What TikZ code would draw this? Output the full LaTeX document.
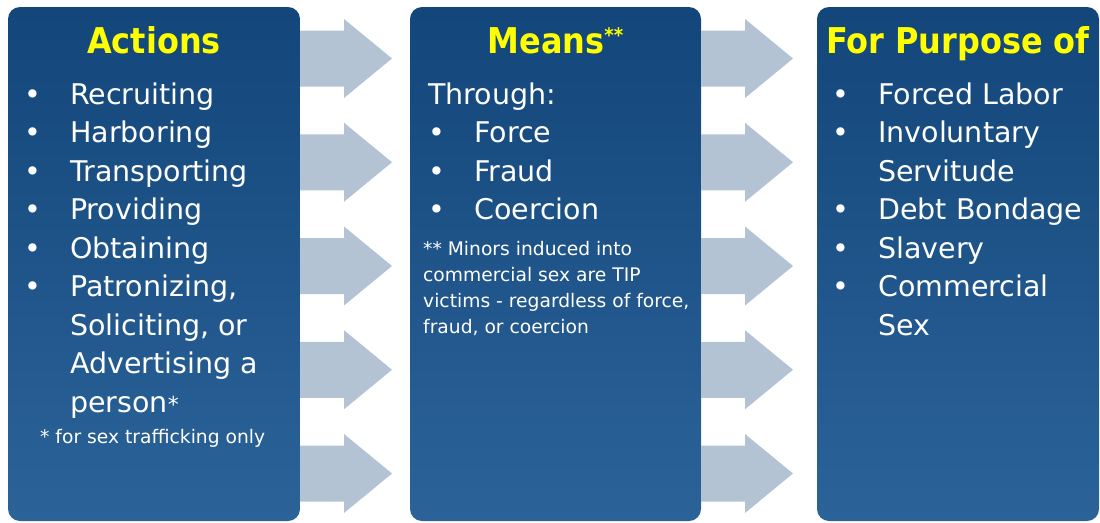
\documentclass[tikz,border=0pt]{standalone}
\usepackage{fontspec}
\setmainfont{DejaVu Sans}
\newfontfamily\headfont{DejaVu Sans}[FakeStretch=0.9]
\usepackage{xcolor}
\definecolor{PanelTop}{HTML}{13467A}
\definecolor{PanelBottom}{HTML}{2B6399}
\definecolor{FlowGray}{HTML}{B3C3D3}
\definecolor{TitleYellow}{HTML}{FFFF00}
\usepackage{tikz}
\usetikzlibrary{positioning}
\usepackage{array}

\begin{document}
\begin{tikzpicture}[x=1pt, y=1pt,
    panel/.style={
    rectangle,
    rounded corners=12pt,
    top color=PanelTop,
    bottom color=PanelBottom,
    inner sep=0pt, outer sep=0pt,
    minimum height=514pt},
    flow/.style={fill=FlowGray},
    heading/.style={text=TitleYellow, inner sep=0pt, anchor=base,
    font=\fontsize{35.5}{40}\selectfont\headfont\bfseries},
    listtext/.style={text=white, inner sep=0pt, anchor=base west,
    font=\fontsize{28.5}{38.5}\selectfont},
    note/.style={text=white, inner sep=0pt, anchor=base west,
    font=\fontsize{18.7}{26}\selectfont}]
    \useasboundingbox (0,0) rectangle (1100,-522);

    \node [panel, minimum width=292pt] (Actions) at (154,-264) {};
    \node [panel, minimum width=291pt] (Means) at (555.5,-264) {};
    \node [panel, minimum width=282pt] (Purpose) at (958,-264) {};

    % arrows between the panels
    \foreach \src in {Actions, Means}
      \foreach \k in {0,...,4}
        \fill[flow] ([yshift={-51.5pt-\k*103.75pt}]\src.north east)
          ++(0,28) -- ++(44,0) -- ++(0,11.5) -- ++(48,-39.5)
          -- ++(-48,-39.5) -- ++(0,11.5) -- ++(-44,0) -- cycle;

    \node [heading] (ActionsTitle) at (Actions.north |- 0,-53) {Actions};
    \node [heading] (MeansTitle) at (Means.north |- 0,-53)
          {Means\raisebox{11pt}{\fontsize{20}{20}\selectfont**}};
    \node [heading] (PurposeTitle) at (Purpose.north |- 0,-53) {For Purpose of};

    \node [listtext] (ActionsList) at (24,-104) {\begin{tabular}[t]{@{}p{46pt}@{}l@{}}
        \textbullet & Recruiting\\
        \textbullet & Harboring\\
        \textbullet & Transporting\\
        \textbullet & Providing\\
        \textbullet & Obtaining\\
        \textbullet & Patronizing,\\
                    & Soliciting, or\\
                    & Advertising a\\
                    & person{\fontsize{22}{22}\selectfont*}
        \end{tabular}};
    \node [note] (ActionsNote) at (40,-443) {* for sex trafficking only};

    \node [listtext] (MeansList) at (428,-104) {\begin{tabular}[t]{@{}p{46pt}@{}l@{}}
        \multicolumn{2}{@{}l@{}}{Through:}\\
        \textbullet & Force\\
        \textbullet & Fraud\\
        \textbullet & Coercion
        \end{tabular}};
    \node [note] (MeansNote) at (423,-255) {\begin{tabular}[t]{@{}l@{}}
        ** Minors induced into\\
        commercial sex are TIP\\
        victims - regardless of force,\\
        fraud, or coercion
        \end{tabular}};

    \node [listtext] (PurposeList) at (832,-104) {\begin{tabular}[t]{@{}p{46pt}@{}l@{}}
        \textbullet & Forced Labor\\
        \textbullet & Involuntary\\
                    & Servitude\\
        \textbullet & Debt Bondage\\
        \textbullet & Slavery\\
        \textbullet & Commercial\\
                    & Sex
        \end{tabular}};
\end{tikzpicture}
\end{document}
